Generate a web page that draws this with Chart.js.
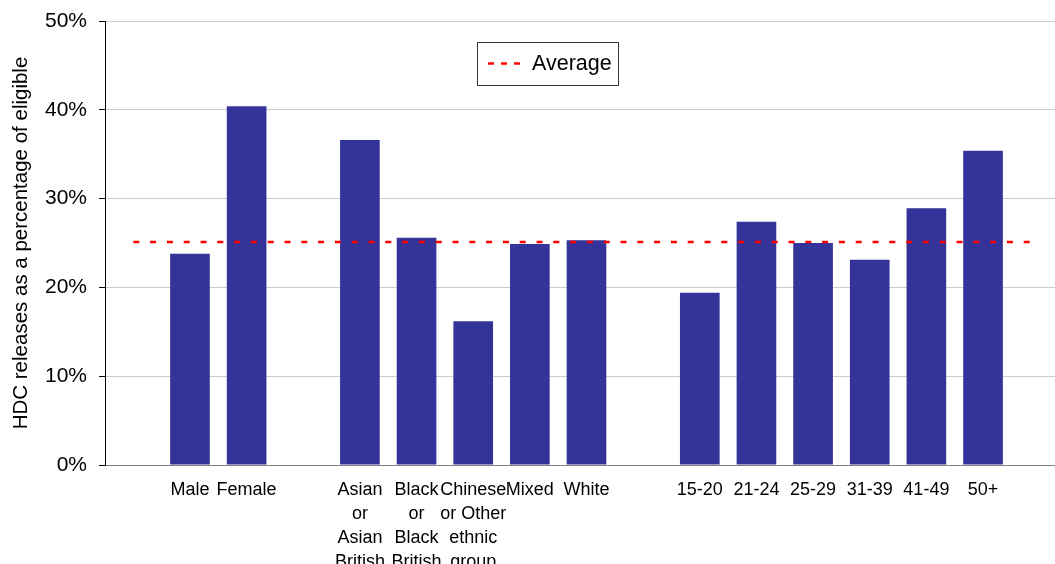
<!DOCTYPE html>
<html>
<head>
<meta charset="utf-8">
<script src="https://cdn.jsdelivr.net/npm/chart.js@4.4.1/dist/chart.umd.min.js"></script>
<style>
html,body{margin:0;padding:0;background:#fff;overflow:hidden;}
#wrap{width:1068px;height:564px;position:relative;}
</style>
</head>
<body>
<div id="wrap"><canvas id="c"></canvas></div>
<script>
// Categories (blank entries are spacer categories between groups)
const categories = [
  "", "Male", "Female", "",
  ["Asian","or","Asian","British"],
  ["Black","or","Black","British"],
  ["Chinese","or Other","ethnic","group"],
  "Mixed", "White", "",
  "15-20", "21-24", "25-29", "31-39", "41-49", "50+", ""
];
// HDC releases as % of eligible
const releaseRates = [
  null, 23.8, 40.4, null,
  36.6, 25.6, 16.2, 24.9, 25.3, null,
  19.4, 27.4, 25.0, 23.1, 28.9, 35.4, null
];
const averageLine = [25.1,25.1,25.1,25.1,25.1,25.1,25.1,25.1,25.1,25.1,25.1,25.1,25.1,25.1,25.1,25.1,25.1];
const yTicks = [0, 10, 20, 30, 40, 50];
const yTitle = "HDC releases as a percentage of eligible";
const averageLabel = "Average";

const FONT = "'Liberation Sans', Arial, sans-serif";

const legendPlugin = {
  id: 'boxLegend',
  afterDraw(chart) {
    const ctx = chart.ctx;
    const ds = chart.data.datasets[0];
    ctx.save();
    const x0 = 477, y0 = 42, w = 141, h = 43;
    ctx.fillStyle = '#fff';
    ctx.fillRect(x0, y0, w, h);
    ctx.strokeStyle = '#333';
    ctx.lineWidth = 1;
    ctx.strokeRect(x0 + 0.5, y0 + 0.5, w, h);
    ctx.strokeStyle = ds.borderColor;
    ctx.lineWidth = 2.5;
    ctx.setLineDash([6, 7]);
    ctx.beginPath();
    ctx.moveTo(488, y0 + h / 2);
    ctx.lineTo(521, y0 + h / 2);
    ctx.stroke();
    ctx.setLineDash([]);
    ctx.fillStyle = '#000';
    ctx.font = '21.5px ' + FONT;
    ctx.textBaseline = 'middle';
    ctx.textAlign = 'left';
    ctx.fillText(ds.label, 532, y0 + h / 2 + 1);
    ctx.restore();
  }
};

new Chart(document.getElementById('c'), {
  data: {
    labels: categories,
    datasets: [
      {
        type: 'line',
        label: averageLabel,
        data: averageLine,
        borderColor: '#ff0000',
        borderWidth: 2.5,
        borderDash: [6, 10.8],
        pointRadius: 0,
        fill: false,
        order: 0
      },
      {
        type: 'bar',
        label: 'HDC releases',
        data: releaseRates,
        backgroundColor: '#333399',
        borderWidth: 0,
        barPercentage: 0.7,
        categoryPercentage: 1.0,
        order: 1
      }
    ]
  },
  options: {
    responsive: true,
    maintainAspectRatio: false,
    animation: false,
    layout: { padding: { top: 21, right: 0, left: 0, bottom: 0 } },
    plugins: {
      legend: { display: false },
      tooltip: { enabled: false }
    },
    scales: {
      x: {
        afterFit(scale) { scale.height = 99; scale.paddingLeft = 0; scale.paddingRight = 0; },
        grid: { display: false, drawTicks: false },
        border: { display: true, color: '#808080', width: 1 },
        ticks: {
          autoSkip: false,
          maxRotation: 0,
          minRotation: 0,
          padding: 13,
          color: '#000',
          font: { family: FONT, size: 18, lineHeight: 1.333 }
        }
      },
      y: {
        min: 0,
        max: 50,
        afterFit(scale) { scale.width = 105; scale.paddingTop = 0; scale.paddingBottom = 0; },
        afterBuildTicks(scale) { scale.ticks = yTicks.map(v => ({ value: v })); },
        grid: {
          color: '#cccccc',
          lineWidth: 1,
          drawTicks: true,
          tickLength: 6,
          tickColor: '#000'
        },
        border: { display: true, color: '#000', width: 1 },
        ticks: {
          padding: 12,
          color: '#000',
          font: { family: FONT, size: 21 },
          callback: v => v + '%'
        },
        title: {
          display: true,
          text: yTitle,
          color: '#000',
          font: { family: FONT, size: 20.5 },
          padding: { top: 9, bottom: 0 }
        }
      }
    }
  },
  plugins: [legendPlugin]
});
</script>
</body>
</html>
